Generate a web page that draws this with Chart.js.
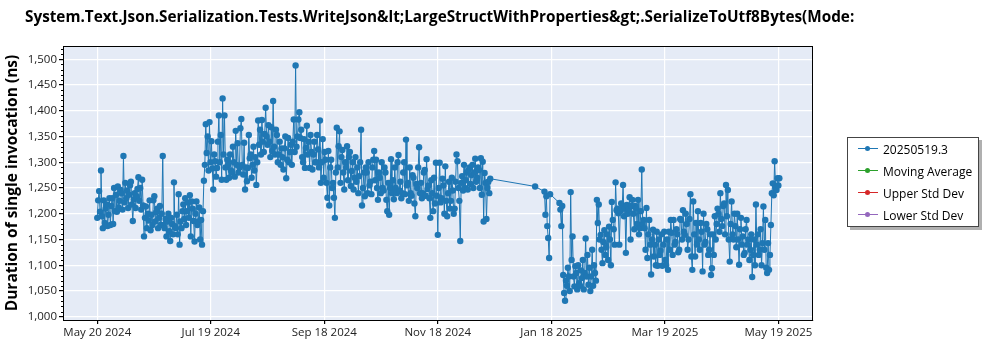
<!DOCTYPE html>
<html>
<head>
<meta charset="utf-8">
<script src="https://cdn.jsdelivr.net/npm/chart.js@4.4.1/dist/chart.umd.min.js"></script>
<style>
  body { margin: 0; background: #fff; }
  #wrap { position: relative; width: 1000px; height: 350px; }
  #title {
    position: absolute; left: 25px; top: 6px;
    font: bold 15.3px "Open Sans", sans-serif; color: #000; white-space: nowrap;
  }
  #legend {
    position: absolute; left: 847px; top: 137px; width: 130px; height: 88px;
    border: 1px solid #444; background: #fff; box-shadow: 3px 3px 0 #b0b0b0;
    font: 12px "Open Sans", sans-serif; color: #000;
  }
  .item { position: absolute; left: 10px; height: 16px; display: flex; align-items: center; }
  .mark { position: relative; width: 20px; height: 16px; margin-right: 5px; }
  .mark .ln { position: absolute; left: 0; top: 7px; width: 20px; height: 1px; }
  .mark .dt { position: absolute; left: 7px; top: 5px; width: 5px; height: 5px; border-radius: 50%; }
</style>
</head>
<body>
<div id="wrap">
  <canvas id="chart" width="1000" height="350"></canvas>
  <div id="title">System.Text.Json.Serialization.Tests.WriteJson&amp;lt;LargeStructWithProperties&amp;gt;.SerializeToUtf8Bytes(Mode:</div>
  <div id="legend"></div>
</div>
<script>
// x tick positions (days since May 20 2024) and labels
const tickDays = [0, 60.67, 121.33, 182, 242.67, 303.33, 364];
const tickLabels = ["May 20 2024", "Jul 19 2024", "Sep 18 2024", "Nov 18 2024", "Jan 18 2025", "Mar 19 2025", "May 19 2025"];
const yTicks = [1000, 1050, 1100, 1150, 1200, 1250, 1300, 1350, 1400, 1450, 1500];

const seriesNames = ["20250519.3", "Moving Average", "Upper Std Dev", "Lower Std Dev"];
const seriesColors = ["#1f77b4", "#2ca02c", "#d62728", "#9467bd"];

// runs per day, index = day since May 20 2024 (null = no run)
const firstRun = [
  1192,1244,1284,1172,1182,1218,1198,1178,1230,1250, 1237,1253,1225,1240,1312,1260,1245,1237,1262,1186,
  1240,1234,1271,1250,1266,1156,1214,1200,1226,1198, 1226,1185,1210,1192,1178,1312,1172,1156,1200,1147,
  1180,1261,1172,1160,1140,1172,1218,1230,1205,1192, 1156,1210,1146,1224,1185,1150,1140,1264,1374,1350,
  1378,1341,1247,1302,1289,1391,1353,1424,1391,1266, 1295,1315,1280,1300,1361,1337,1290,1384,1276,1247,
  1263,1353,1315,1295,1284,1256,1381,1363,1382,1320, 1406,1334,1340,1368,1419,1315,1353,1315,1295,1310,
  1327,1269,1347,1320,1295,1383,1488,1350,1397,1363, 1300,1289,1371,1340,1353,1286,1340,1300,1325,1381,
  1300,1270,1305,1231,1216,1305,1260,1192,1367,1331, 1260,1324,1247,1290,1265,1320,1283,1247,1310,1290,
  1273,1363,1250,1234,1280,1300,1262,1290,1322,1305, 1227,1270,1300,1245,1280,1205,1198,1306,1265,1290,
  1240,1314,1262,1240,1300,1344,1260,1290,1235,1270, 1195,1250,1329,1260,1240,1285,1306,1255,1192,1240,
  1270,1299,1159,1299,1230,1255,1292,1195,1262,1225, 1245,1210,1315,1250,1147,1273,1295,1265,1247,1290,
  1275,1250,1307,1270,1285,1308,1301,1279,1190,1262, 1268,null,null,null,null,null,null,null,null,null,
  null,null,null,null,null,null,null,null,null,null, null,null,null,null,1253,null,null,null,null,1243,
  1234,1153,1238,null,null,null,null,1221,1176,1081, 1031,1060,1078,1242,1156,1059,1085,1100,1060,1075,
  1053,1152,1120,1095,1078,1060,1085,1227,1218,1159, 1104,1168,1135,1110,1150,1223,1170,1261,1210,1140,
  1220,1256,1210,1217,1208,1150,1227,1170,1210,1227, 1172,1286,1188,1130,1114,1188,1082,1169,1140,1165,
  1150,1128,1099,1165,1100,1091,1130,1163,1188,1145, 1160,1130,1188,1207,1159,1180,1150,1238,1091,1160,
  1182,1205,1130,1165,1200,1145,1170,1130,1081,1160, 1195,1180,1200,1240,1176,1220,1256,1246,1107,1224,
  1150,1176,1200,1101,1192,1156,1124,1188,1150,1130, 1077,1150,1218,1160,1130,1100,1214,1188,1085,1091,
  1178,1259,1302,1246,1255
];
const secondRun = [
  1226,1204,1195,1226,1210,1176,1230,1215,1180,1205, 1204,1212,1246,1208,1222,1230,1211,1255,1218,1228,
  1211,1248,1225,1208,1216,1192,1172,1187,1168,1178, 1234,1203,1172,1215,1200,1178,1190,1185,1166,1192,
  1160,1176,1198,1238,1185,1205,1190,1178,1222,1236, 1224,1186,1200,1178,1212,1188,1205,1295,1318,1284,
  1300,1288,1315,1272,1340,1300,1266,1315,1290,1305, 1270,1284,1330,1272,1295,1280,1366,1295,1338,1290,
  1289,1308,1270,1330,1310,1300,1334,1315,1340,1355, 1350,1372,1310,1322,1330,1363,1300,1340,1327,1286,
  1350,1305,1300,1334,1340,1320,1330,1383,1347,1310, 1345,1328,1315,1289,1320,1315,1300,1353,1290,1260,
  1345,1320,1260,1322,1290,1250,1231,1280,1290,1360, 1310,1280,1300,1331,1310,1254,1300,1270,1262,1240,
  1300,1216,1280,1290,1240,1255,1238,1305,1265,1250, 1280,1240,1250,1290,1227,1260,1250,1240,1228,1250,
  1300,1245,1230,1280,1238,1255,1225,1240,1275,1220, 1258,1290,1240,1230,1280,1235,1248,1230,1265,1205,
  1220,1235,1250,1222,1268,1200,1225,1240,1210,1270, 1200,1262,1302,1225,1260,1245,1250,1280,1285,1258,
  1295,1280,1262,1290,1250,1237,1185,1260,1250,1240, null,null,null,null,null,null,null,null,null,null,
  null,null,null,null,null,null,null,null,null,null, null,null,null,null,null,null,null,null,null,1198,
  1176,1114,null,null,null,null,null,1208,1215,1046, 1070,1095,1050,1110,1078,1098,1053,1065,1090,1110,
  1085,1078,1062,1050,1130,1100,1070,1182,1150,1130, 1145,1120,1160,1175,1100,1188,1140,1207,1201,1205,
  1210,1195,1124,1200,1232,1215,1200,1215,1180,1160, 1205,1180,1172,1211,1160,1140,1150,1117,1100,1099,
  1120,1160,1140,1110,1150,1165,1188,1120,1140,1170, 1125,1190,1150,1165,1200,1130,1190,1117,1224,1117,
  1140,1150,1182,1088,1140,1180,1120,1160,1094,1120, 1150,1210,1165,1190,1215,1160,1195,1150,1180,1160,
  1200,1135,1150,1170,1140,1120,1170,1140,1110,1160, 1120,1100,1140,1120,1170,1143,1130,1095,1143,1120,
  1240,1236,1250,1269,1269
];

// build the point list in time order, two runs per day
const points = [];
firstRun.forEach((v, day) => {
  if (v !== null) points.push({ x: day, y: v });
  if (secondRun[day] !== null) points.push({ x: day + 0.5, y: secondRun[day] });
});

// frame round the plot and minor y ticks
const framePlugin = {
  id: "frame",
  afterDraw(chart) {
    const { ctx, chartArea: a } = chart;
    const y = chart.scales.y;
    ctx.save();
    ctx.strokeStyle = "#000";
    ctx.lineWidth = 1;
    ctx.strokeRect(a.left + 0.5, a.top + 0.5, a.right - a.left - 1, a.bottom - a.top);
    ctx.beginPath();
    for (let v = 1000; v <= 1520; v += 10) {
      if (v % 50 === 0) continue;
      const py = Math.round(y.getPixelForValue(v)) + 0.5;
      ctx.moveTo(a.left - 2, py);
      ctx.lineTo(a.left, py);
    }
    ctx.stroke();
    ctx.restore();
  }
};

const ctx = document.getElementById("chart").getContext("2d");
const chart = new Chart(ctx, {
  type: "line",
  data: {
    datasets: seriesNames.map((name, i) => ({
      label: name,
      data: i === 0 ? points : [],
      borderColor: seriesColors[i],
      backgroundColor: seriesColors[i],
      borderWidth: 1,
      pointRadius: 3.2,
      pointHoverRadius: 3.2,
      pointBorderWidth: 0,
      tension: 0,
    })),
  },
  options: {
    responsive: false,
    animation: false,
    layout: { padding: { top: 46, right: 187, left: 0, bottom: 0 } },
    plugins: {
      legend: { display: false },
      title: { display: false },
      tooltip: { enabled: false },
    },
    scales: {
      x: {
        type: "linear",
        min: -18.3,
        max: 382.5,
        afterBuildTicks: (s) => { s.ticks = tickDays.map((v) => ({ value: v })); },
        afterFit: (s) => { s.height = 30; },
        ticks: {
          autoSkip: false,
          maxRotation: 0,
          padding: 2,
          color: "#222",
          font: { family: "Open Sans", size: 11.5 },
          callback: (v, i) => tickLabels[i],
        },
        grid: { color: "#ffffff", lineWidth: 1.2, tickColor: "#000", tickLength: 4 },
        border: { color: "#000", width: 1 },
      },
      y: {
        min: 993.6,
        max: 1525.8,
        afterBuildTicks: (s) => { s.ticks = yTicks.map((v) => ({ value: v })); },
        afterFit: (s) => { s.width = 63; },
        ticks: {
          padding: 2,
          color: "#222",
          font: { family: "Open Sans", size: 11.5 },
          callback: (v) => v.toLocaleString("en-US"),
        },
        grid: { color: "#ffffff", lineWidth: 1.2, tickColor: "#000", tickLength: 4 },
        border: { color: "#000", width: 1 },
        title: {
          display: true,
          text: "Duration of single invocation (ns)",
          color: "#000",
          font: { family: "Open Sans", size: 15.5, weight: "bold" },
          padding: { top: 3, bottom: 0 },
        },
      },
    },
  },
  plugins: [
    framePlugin,
    {
      id: "bg",
      beforeDraw(c) {
        const a = c.chartArea;
        c.ctx.save();
        c.ctx.fillStyle = "#e5ebf6";
        c.ctx.fillRect(a.left, a.top, a.right - a.left, a.bottom - a.top);
        c.ctx.restore();
      },
    },
  ],
});

// legend built from the chart's datasets
const legend = document.getElementById("legend");
chart.data.datasets.forEach((ds, i) => {
  const row = document.createElement("div");
  row.className = "item";
  row.style.top = 3 + i * 22 + "px";
  row.innerHTML =
    '<span class="mark"><span class="ln" style="background:' + ds.borderColor +
    '"></span><span class="dt" style="background:' + ds.borderColor + '"></span></span>';
  const label = document.createElement("span");
  label.textContent = ds.label;
  row.appendChild(label);
  legend.appendChild(row);
});
</script>
</body>
</html>
